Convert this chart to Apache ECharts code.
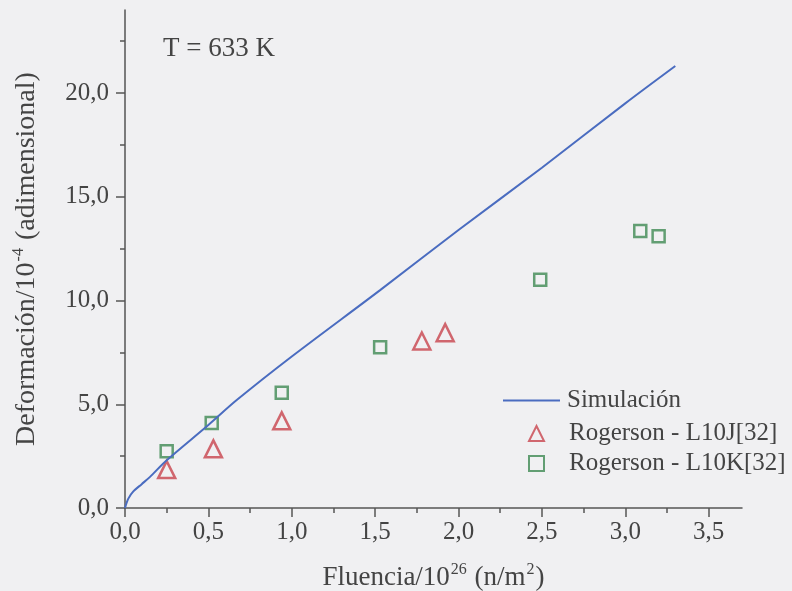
<!DOCTYPE html>
<html>
<head>
<meta charset="utf-8">
<script src="https://cdn.jsdelivr.net/npm/echarts@6/dist/echarts.min.js"></script>
<style>
  html, body { margin: 0; padding: 0; background: #f0f0f2; }
  #container { width: 792px; height: 591px; }
</style>
</head>
<body>
<div id="container"></div>
<script>
// simulated curve
let simX = [0, 0.02, 0.05, 0.1, 0.15, 0.25, 0.5, 0.67, 1.0, 1.53, 2.0, 2.5, 3.0, 3.3];
let simY = [0, 0.45, 0.8, 1.15, 1.5, 2.3, 4.0, 5.2, 7.3, 10.5, 13.4, 16.4, 19.5, 21.3];
// Rogerson L10J (triangles)
let l10jX = [0.25, 0.53, 0.94, 1.78, 1.92];
let l10jY = [1.85, 2.85, 4.2, 8.05, 8.45];
// Rogerson L10K (squares)
let l10kX = [0.25, 0.52, 0.94, 1.53, 2.49, 3.09, 3.2];
let l10kY = [2.73, 4.1, 5.55, 7.75, 11.0, 13.35, 13.1];
// ticks
let xMajor = [0, 0.5, 1.0, 1.5, 2.0, 2.5, 3.0, 3.5];
let xMinor = [0.25, 0.75, 1.25, 1.75, 2.25, 2.75, 3.25];
let yMajor = [0, 5, 10, 15, 20];
let yMinor = [2.5, 7.5, 12.5, 17.5, 22.5];

let font = "Liberation Serif";
let axisColor = "#555";
let textColor = "#444";
let lineColor = "#4a6cc0";

function zip(xs, ys) {
  return xs.map(function (x, i) {
    return [x, ys[i]];
  });
}
function fmt(v) {
  return v.toFixed(1).replace(".", ",");
}
function supRich(size) {
  return {
    n: { fontFamily: font, fontSize: size, color: textColor, lineHeight: 32 },
    s: { fontFamily: font, fontSize: 16, color: textColor, lineHeight: 32, verticalAlign: "top", padding: [0, 1, 14, 1] },
  };
}

let dom = document.getElementById("container");
let myChart = echarts.init(dom, null, { renderer: "canvas" });

let option = {
  backgroundColor: "#f0f0f2",
  animation: false,
  title: {
    text: "T = 633 K",
    left: 158,
    top: 30,
    textStyle: { fontFamily: font, fontSize: 27, fontWeight: "normal", color: textColor },
  },
  legend: [
    {
      left: 503,
      top: 388,
      padding: 0,
      icon: "rect",
      itemWidth: 57,
      itemHeight: 2,
      textStyle: { fontFamily: font, fontSize: 25, color: textColor, padding: [0, 0, 0, 2] },
      data: ["Simulación"],
    },
    {
      orient: "vertical",
      left: 528,
      top: 421,
      padding: 0,
      itemWidth: 15,
      itemHeight: 15,
      itemGap: 5,
      textStyle: { fontFamily: font, fontSize: 25, color: textColor, padding: [0, 0, 0, 20] },
      data: ["Rogerson - L10J[32]", "Rogerson - L10K[32]"],
    },
  ],
  grid: { left: 125, top: 10, right: 50, bottom: 83, outerBoundsMode: "none" },
  xAxis: [
    {
      type: "value",
      min: 0,
      max: 3.7,
      interval: 0.5,
      name: "{n|Fluencia/10}{s|26}{n| (n/m}{s|2}{n|)}",
      nameLocation: "middle",
      nameGap: 54,
      nameTextStyle: { rich: supRich(27) },
      axisLine: { show: true, lineStyle: { color: axisColor, width: 1.5 } },
      axisTick: { show: true, length: 9, customValues: xMajor, lineStyle: { color: axisColor, width: 1.5 } },
      axisLabel: { customValues: xMajor, formatter: fmt, fontFamily: font, fontSize: 25, color: textColor, margin: 12 },
      splitLine: { show: false },
    },
    {
      type: "value",
      min: 0,
      max: 3.7,
      position: "bottom",
      axisLine: { show: false },
      axisTick: { show: true, length: 5, customValues: xMinor, lineStyle: { color: axisColor, width: 1.5 } },
      axisLabel: { show: false },
      splitLine: { show: false },
    },
  ],
  yAxis: [
    {
      type: "value",
      min: 0,
      max: 24,
      interval: 5,
      name: "{n|Deformación/10}{s|-4}{n| (adimensional)}",
      nameLocation: "middle",
      nameGap: 82,
      nameTextStyle: { rich: supRich(28) },
      axisLine: { show: true, lineStyle: { color: axisColor, width: 1.5 } },
      axisTick: { show: true, length: 9, customValues: yMajor, lineStyle: { color: axisColor, width: 1.5 } },
      axisLabel: { customValues: yMajor, formatter: fmt, fontFamily: font, fontSize: 25, color: textColor, margin: 16 },
      splitLine: { show: false },
    },
    {
      type: "value",
      min: 0,
      max: 24,
      position: "left",
      axisLine: { show: false },
      axisTick: { show: true, length: 5, customValues: yMinor, lineStyle: { color: axisColor, width: 1.5 } },
      axisLabel: { show: false },
      splitLine: { show: false },
    },
  ],
  series: [
    {
      name: "Simulación",
      type: "line",
      smooth: 0.3,
      showSymbol: false,
      symbol: "none",
      data: zip(simX, simY),
      lineStyle: { color: lineColor, width: 2 },
      itemStyle: { color: lineColor },
    },
    {
      name: "Rogerson - L10J[32]",
      type: "scatter",
      symbol: "triangle",
      symbolSize: 17,
      data: zip(l10jX, l10jY),
      itemStyle: { color: "rgba(0,0,0,0)", borderColor: "#c8444c", borderWidth: 2.5 },
    },
    {
      name: "Rogerson - L10K[32]",
      type: "scatter",
      symbol: "rect",
      symbolSize: 12,
      data: zip(l10kX, l10kY),
      itemStyle: { color: "rgba(0,0,0,0)", borderColor: "#3f8a52", borderWidth: 2.5 },
    },
  ],
};

myChart.setOption(option);
window.addEventListener("resize", myChart.resize);
</script>
</body>
</html>
